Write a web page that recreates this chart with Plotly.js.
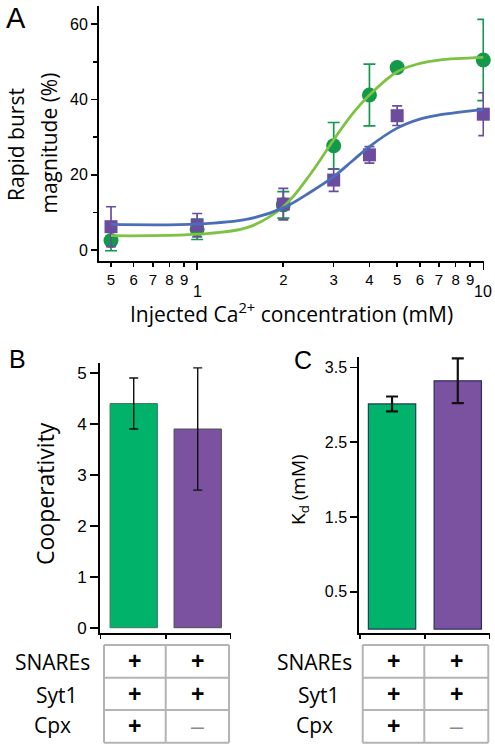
<!DOCTYPE html>
<html>
<head>
<meta charset="utf-8">
<script src="https://cdn.plot.ly/plotly-3.0.1.min.js"></script>
<style>html,body{margin:0;padding:0;background:#fff;}#chart{width:495px;height:745px;}</style>
</head>
<body>
<div id="chart"></div>
<script>
// ---- Panel A data ----
const conc = [0.5, 1, 2, 3, 4, 5, 10];
const greenY = [2.5, 5.5, 12.0, 27.7, 41.2, 48.5, 50.5];
const greenErr = [2.7, 2.7, 3.5, 6.2, 8.2, 1.0, 10.8];
const purpleY = [6.2, 6.6, 12.2, 18.6, 25.3, 35.7, 36.1];
const purpleErr = [5.3, 3.1, 4.2, 3.0, 2.2, 2.6, 5.7];
const fitX = [0.5, 1, 1.5, 2, 2.5, 3, 3.5, 4, 5, 6, 7, 10];
const greenFit = [3.8, 4.2, 6.0, 11.5, 20.4, 29.3, 36.3, 41.2, 47.4, 49.6, 50.5, 51.2];
const blueFit = [6.8, 6.9, 8.2, 11.2, 15.5, 19.5, 23.8, 27.5, 32.4, 34.8, 35.9, 37.4];
const xTickVals = [0.5, 0.6, 0.7, 0.8, 0.9, 2, 3, 4, 5, 6, 7, 8, 9];
const xTickText = ["5", "6", "7", "8", "9", "2", "3", "4", "5", "6", "7", "8", "9"];
const xMajorVals = [1, 10];
const xMajorText = ["1", "10"];
const yTickValsA = [0, 20, 40, 60];
// ---- Panel B data ----
const groups = [0, 1];
const coopVals = [4.4, 3.9];
const coopErr = [0.5, 1.2];
const yTickValsB = [0, 1, 2, 3, 4, 5];
// ---- Panel C data ----
const kdVals = [3.01, 3.32];
const kdErr = [0.1, 0.3];
const yTickValsC = [0.5, 1.5, 2.5, 3.5];
const yTickTextC = ["0.5", "1.5", "2.5", "3.5"];
// ---- Table ----
const rowLabels = ["SNAREs", "Syt1", "Cpx"];
const cond = [["+", "+"], ["+", "+"], ["+", "\u2013"]];

const W = 495, H = 745;
const px = x => x / W;
const py = y => 1 - y / H;

const GREEN_M = "#12994a", GREEN_L = "#7cc243", PURPLE = "#6b4c9f", BLUE = "#4a6fb8";
const BAR_G = "#00b26a", BAR_P = "#7b52a0";
const NARROW = "'Liberation Sans Narrow', 'Arial Narrow', 'Liberation Sans', sans-serif";
const TXT = "'Open Sans', sans-serif";

const traces = [
  {x: conc, y: greenY, type: "scatter", mode: "markers", xaxis: "x", yaxis: "y", cliponaxis: false,
   marker: {symbol: "circle", size: 15, color: GREEN_M},
   error_y: {type: "data", array: greenErr, visible: true, color: GREEN_M, thickness: 1.7, width: 6}},
  {x: conc, y: purpleY, type: "scatter", mode: "markers", xaxis: "x", yaxis: "y", cliponaxis: false,
   marker: {symbol: "square", size: 13, color: PURPLE},
   error_y: {type: "data", array: purpleErr, visible: true, color: PURPLE, thickness: 1.7, width: 5}},
  {x: fitX, y: greenFit, type: "scatter", mode: "lines", xaxis: "x", yaxis: "y", cliponaxis: false,
   line: {color: GREEN_L, width: 2.8, shape: "spline", smoothing: 1}},
  {x: fitX, y: blueFit, type: "scatter", mode: "lines", xaxis: "x", yaxis: "y", cliponaxis: false,
   line: {color: BLUE, width: 2.8, shape: "spline", smoothing: 1}},
  {x: groups, y: coopVals, type: "bar", xaxis: "x2", yaxis: "y2", width: 0.74, cliponaxis: false,
   marker: {color: [BAR_G, BAR_P], line: {color: ["#3d7a5a", "#4f4f4f"], width: 1}},
   error_y: {type: "data", array: coopErr, visible: true, color: "#111", thickness: 1.4, width: 4.5}},
  {x: groups, y: kdVals, type: "bar", xaxis: "x3", yaxis: "y3", width: 0.72, cliponaxis: false,
   marker: {color: [BAR_G, BAR_P], line: {color: ["#1d3d5c", "#2b2b60"], width: 1.2}},
   error_y: {type: "data", array: kdErr, visible: true, color: "#111", thickness: 2.2, width: 6}}
];

const axBase = {showline: true, linecolor: "#000", linewidth: 2, ticks: "outside", tickcolor: "#000",
  tickwidth: 1.6, showgrid: false, zeroline: false, fixedrange: true,
  tickfont: {family: NARROW, size: 16, color: "#000"}};

const layout = {
  width: W, height: H, margin: {l: 0, r: 0, t: 0, b: 0}, showlegend: false,
  paper_bgcolor: "#fff", plot_bgcolor: "rgba(0,0,0,0)",
  xaxis: Object.assign({}, axBase, {type: "log", domain: [px(99), px(484)], range: [-0.343, 1.0024],
    anchor: "y", tickvals: xTickVals, ticktext: xTickText, ticklen: 4,
    tickfont: {family: NARROW, size: 15, color: "#000"}, ticklabelstandoff: 0,
    minor: {tickvals: xMajorVals, ticklen: 7, tickwidth: 1.6, tickcolor: "#000", ticks: "outside"}}),
  yaxis: Object.assign({}, axBase, {domain: [py(261), py(6)], range: [-2.92, 64.86], anchor: "x",
    tickvals: yTickValsA, ticklen: 6,
    minor: {tickvals: [10, 30, 50], ticklen: 4, tickwidth: 1.6, tickcolor: "#000", ticks: "outside"}}),
  xaxis2: Object.assign({}, axBase, {domain: [px(100), px(231)], range: [-0.527, 1.52], anchor: "y2",
    tickvals: [-0.52, 0.5, 1.513], ticklen: 4, showticklabels: false}),
  yaxis2: Object.assign({}, axBase, {domain: [py(632.7), py(363.3)], range: [-0.098, 5.19], anchor: "x2",
    tickvals: yTickValsB, ticklen: 8, tickfont: {family: NARROW, size: 17, color: "#000"}}),
  xaxis3: Object.assign({}, axBase, {domain: [px(359.3), px(490)], range: [-0.498, 1.49], anchor: "y3",
    tickvals: [-0.49, 0.5, 1.485], ticklen: 4, showticklabels: false}),
  yaxis3: Object.assign({}, axBase, {domain: [py(632.7), py(357)], range: [-0.048, 3.638], anchor: "x3",
    tickvals: yTickValsC, ticktext: yTickTextC, ticklen: 7}),
  annotations: [],
  shapes: []
};

const ann = layout.annotations;
function A(text, x, y, opts) {
  ann.push(Object.assign({text: text, x: px(x), y: py(y), xref: "paper", yref: "paper",
    showarrow: false, xanchor: "center", yanchor: "middle",
    font: {family: TXT, size: 21, color: "#000"}}, opts || {}));
}
// Major x labels (1, 10) on lower row, tied to axis x
xMajorVals.forEach((v, i) => ann.push({text: xMajorText[i], x: Math.log10(v), xref: "x", y: py(291), yref: "paper",
  showarrow: false, xanchor: "center", yanchor: "middle", font: {family: NARROW, size: 16, color: "#000"}}));
// Panel letters
A("A", 4, 17.5, {xanchor: "left", font: {family: "'Liberation Sans', Arial, sans-serif", size: 29, color: "#000"}});
A("B", 7, 359, {xanchor: "left", font: {family: "'Liberation Sans', Arial, sans-serif", size: 25, color: "#000"}});
A("C", 292, 359.5, {xanchor: "left", font: {family: "'Liberation Sans', Arial, sans-serif", size: 25, color: "#000"}});
// Axis titles
A("Injected Ca<sup>2+</sup> concentration (mM)", 291.6, 312, {font: {family: TXT, size: 21, color: "#000"}});
A("Rapid burst", 16, 145, {textangle: -90, font: {family: TXT, size: 21, color: "#000"}});
A("magnitude (%)", 49, 143.5, {textangle: -90, font: {family: TXT, size: 21, color: "#000"}});
A("Cooperativity", 45, 494, {textangle: -90, font: {family: TXT, size: 23, color: "#000"}});
A("K<sub>d</sub> (mM)", 299, 490, {textangle: -90, font: {family: TXT, size: 19, color: "#000"}});

// Tables
const rowY = [645, 677.7, 710, 742.7];
const tables = [
  {cols: [104, 165.7, 229], labelX: [52, 56.5, 52.5]},
  {cols: [362.7, 424.3, 488.3], labelX: [314, 318.5, 314.5]}
];
const GRID = "#b4b4b4";
tables.forEach(t => {
  rowY.forEach(y => layout.shapes.push({type: "line", xref: "paper", yref: "paper",
    x0: px(t.cols[0]), x1: px(t.cols[2]), y0: py(y), y1: py(y), line: {color: GRID, width: 2}}));
  t.cols.forEach(x => layout.shapes.push({type: "line", xref: "paper", yref: "paper",
    x0: px(x), x1: px(x), y0: py(rowY[0]), y1: py(rowY[3]), line: {color: GRID, width: 2}}));
  rowLabels.forEach((lab, r) => {
    const cy = (rowY[r] + rowY[r + 1]) / 2;
    A(lab, t.labelX[r], cy + (r === 2 ? -1.5 : 1), {font: {family: TXT, size: 21, color: "#000"}});
    cond[r].forEach((c, k) => {
      const cx = (t.cols[k] + t.cols[k + 1]) / 2;
      const isPlus = c === "+";
      A(isPlus ? "<b>+</b>" : c, cx, cy, {font: {family: "'Liberation Sans', Arial, sans-serif", size: 23,
        color: isPlus ? "#000" : "#888"}});
    });
  });
});

Plotly.newPlot("chart", traces, layout, {staticPlot: true, displayModeBar: false});
</script>
</body>
</html>
